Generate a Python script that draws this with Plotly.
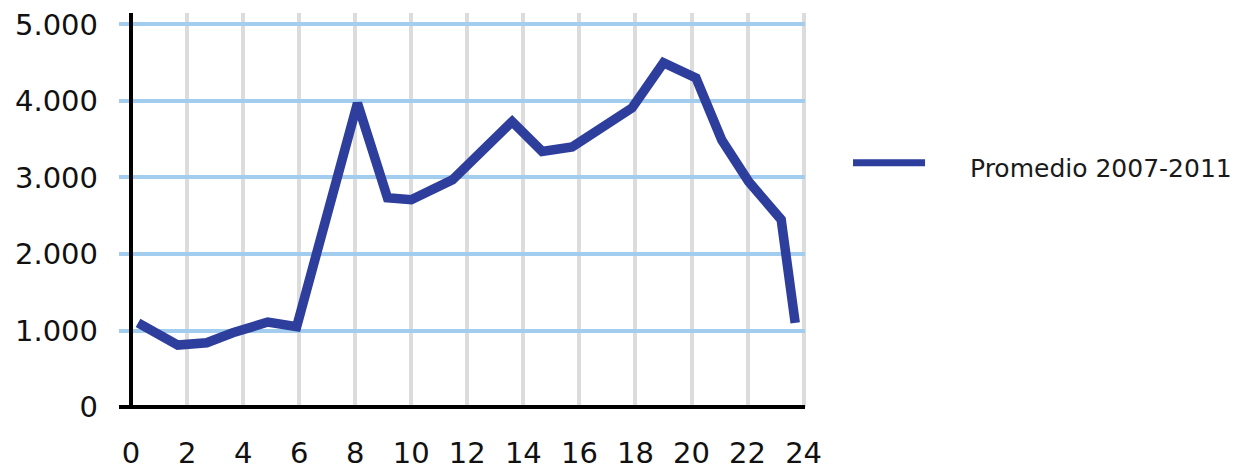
import plotly.graph_objects as go

# Hourly average
series_name = "Promedio 2007-2011"
hours = [0.25, 1.67, 2.7, 3.63, 4.88, 5.91, 8.08, 9.15, 10.0, 11.47, 13.6,
         14.67, 15.74, 17.88, 19.0, 20.16, 21.08, 22.04, 23.2, 23.7]
values = [1100, 810, 840, 970, 1110, 1050, 3970, 2735, 2710, 2970, 3730,
          3340, 3400, 3910, 4500, 4300, 3490, 2945, 2450, 1100]
y_ticks = [0, 1000, 2000, 3000, 4000, 5000]
y_labels = ["0", "1.000", "2.000", "3.000", "4.000", "5.000"]
x_ticks = list(range(0, 25, 2))

line_color = "#2E3E9C"
font_family = "DejaVu Sans, Verdana, sans-serif"

fig = go.Figure()
fig.add_trace(go.Scatter(
    x=hours,
    y=values,
    mode="lines",
    name=series_name,
    line=dict(color=line_color, width=9.5),
    showlegend=False,
))

# hand-drawn legend (wider line sample than plotly's default)
fig.add_shape(type="line", xref="paper", yref="paper",
              x0=1.07, x1=1.175, y0=0.62, y1=0.62,
              line=dict(color=line_color, width=7))
fig.add_annotation(xref="paper", yref="paper", x=1.238, y=0.605,
                   text=series_name, showarrow=False,
                   xanchor="left", yanchor="middle",
                   font=dict(family=font_family, size=25, color="#1a1a1a"))

fig.update_xaxes(
    range=[-0.43, 24.05],
    tickvals=x_ticks,
    ticktext=[str(v) for v in x_ticks],
    showgrid=True, gridcolor="#DCDCDC", gridwidth=4,
    zeroline=True, zerolinecolor="black", zerolinewidth=4,
    showline=False, ticks="", automargin=False,
    ticklabelstandoff=26,
    tickfont=dict(family=font_family, size=29, color="#111111"),
)
fig.update_yaxes(
    range=[0, 5150],
    tickvals=y_ticks,
    ticktext=y_labels,
    showgrid=True, gridcolor="#A3CDEE", gridwidth=4,
    zeroline=True, zerolinecolor="black", zerolinewidth=4,
    showline=False, ticks="", automargin=False,
    ticklabelstandoff=20,
    tickfont=dict(family=font_family, size=29, color="#111111"),
)

fig.update_layout(
    width=1258, height=470,
    margin=dict(l=119, r=453, t=13, b=63),
    paper_bgcolor="white", plot_bgcolor="white",
    font=dict(family=font_family),
)

# drop the browser's default body margin so the figure sits at (0, 0)
fig.write_html("out.html", config={"displayModeBar": False},
               post_script="document.body.style.margin='0';")
